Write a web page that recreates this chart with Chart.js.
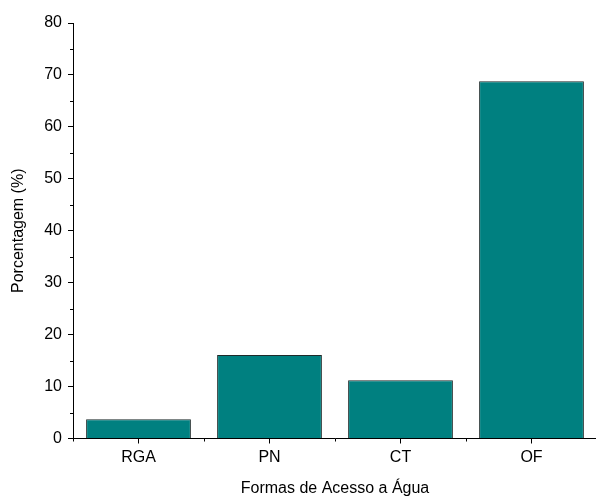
<!DOCTYPE html>
<html>
<head>
<meta charset="utf-8">
<script src="https://cdn.jsdelivr.net/npm/chart.js@4/dist/chart.umd.min.js"></script>
<style>
    html, body { margin: 0; padding: 0; background: #fff; overflow: hidden; }
    #wrap { width: 600px; height: 504px; }
</style>
</head>
<body>
<div id="wrap"><canvas id="chart" width="600" height="504"></canvas></div>
<script>
// Chart data
const categories = ["RGA", "PN", "CT", "OF"];
const percentages = [3.7, 16.1, 11.2, 68.8];
const yTicks = [0, 10, 20, 30, 40, 50, 60, 70, 80];
const yMinorTicks = [5, 15, 25, 35, 45, 55, 65, 75];

const FONT = "'Liberation Sans', Arial, sans-serif";

// Draws the short minor ticks, positioned via the chart's own scales
const minorTicks = {
    id: "minorTicks",
    afterDraw(chart) {
        const ctx = chart.ctx;
        const x = chart.scales.x;
        const y = chart.scales.y;
        ctx.save();
        ctx.strokeStyle = "#000";
        ctx.lineWidth = 1;
        ctx.beginPath();
        yMinorTicks.forEach((v) => {
            const py = Math.round(y.getPixelForValue(v)) + 0.5;
            ctx.moveTo(x.left, py);
            ctx.lineTo(x.left - 3, py);
        });
        for (let i = 0; i <= categories.length; i++) {
            const px = Math.round(x.getPixelForValue(i - 0.5)) + 0.5;
            ctx.moveTo(px, y.bottom);
            ctx.lineTo(px, y.bottom + 3);
        }
        ctx.stroke();
        ctx.restore();
    },
};

new Chart(document.getElementById("chart"), {
    type: "bar",
    data: {
        labels: categories,
        datasets: [
            {
                data: percentages,
                backgroundColor: "#008080",
                borderColor: "#1e2a2a",
                borderWidth: 1,
                barPercentage: 1,
                categoryPercentage: 0.8,
            },
        ],
    },
    options: {
        responsive: false,
        animation: false,
        layout: { padding: { top: 23, right: 3, left: 0, bottom: 0 } },
        plugins: {
            legend: { display: false },
            tooltip: { enabled: false },
        },
        scales: {
            x: {
                offset: true,
                grid: {
                    offset: false,
                    drawOnChartArea: false,
                    drawTicks: true,
                    tickLength: 5,
                    color: "#000",
                },
                border: { color: "#000", width: 1 },
                ticks: {
                    color: "#000",
                    font: { family: FONT, size: 16 },
                    padding: 4,
                    maxRotation: 0,
                },
                title: {
                    display: true,
                    text: "Formas de Acesso a Água",
                    color: "#000",
                    font: { family: FONT, size: 16 },
                    padding: { top: 4, bottom: 6 },
                },
                afterFit(scale) {
                    scale.height = 65.5;
                },
            },
            y: {
                min: 0,
                max: 80,
                afterBuildTicks(scale) {
                    scale.ticks = yTicks.map((v) => ({ value: v }));
                },
                grid: {
                    drawOnChartArea: false,
                    drawTicks: true,
                    tickLength: 5,
                    color: "#000",
                },
                border: { color: "#000", width: 1 },
                ticks: {
                    color: "#000",
                    font: { family: FONT, size: 16 },
                    padding: 6,
                },
                title: {
                    display: true,
                    text: "Porcentagem (%)",
                    color: "#000",
                    font: { family: FONT, size: 16 },
                    padding: { top: 9, bottom: 0 },
                },
                afterFit(scale) {
                    scale.width = 73;
                },
            },
        },
    },
    plugins: [minorTicks],
});
</script>
</body>
</html>
